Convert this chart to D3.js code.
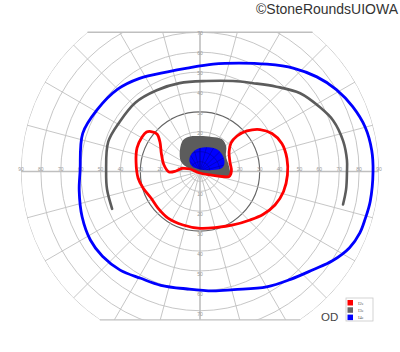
<!DOCTYPE html>
<html>
<head>
<meta charset="utf-8">
<script src="https://cdn.jsdelivr.net/npm/d3@7"></script>
<style>
  html, body { margin: 0; padding: 0; background: #fff; }
  svg { display: block; }
</style>
</head>
<body>
<svg id="chart" width="400" height="352"></svg>
<script>
// isopters as [meridian angle (deg, 0 = right, ccw), eccentricity (deg)]
const i4eOuter = [
  [0, 87], [7, 87], [15, 86], [23, 83.4], [31, 80], [39, 75.6], [48, 70], [58, 63.6],
  [70, 58], [83, 54.4], [97, 52.4], [108, 52.7], [123, 55.8], [135, 58.5], [149, 60.3],
  [162, 62], [180, 60.3], [189, 61.5], [201, 63.5], [212, 65], [221, 65], [231, 63.8],
  [241, 61.4], [251, 60.5], [264, 59.4], [276, 60.4], [286, 61.8], [300, 67], [310, 70.8],
  [319, 75.3], [326, 80.3], [333, 84.4], [339, 86.1], [344, 86.4], [350, 86.9]
];
const i3eArc = [
  [203, 48], [191, 47.6], [180, 47.2], [162, 48.5], [148, 47.5], [133, 47.5], [118, 46.3],
  [103, 45.6], [86, 45.6], [70, 48.4], [59, 51.8], [48, 57.4], [38, 63.9], [28, 68.5],
  [21, 71.7], [12, 73.6], [4.5, 74.1], [0, 73.9], [-7, 74], [-13, 73.8]
];
const i3eIsland = [
  [153, 10.7], [133, 14.8], [118, 18], [106, 18.3], [90, 17.8], [71, 18.4], [56, 19.7],
  [44, 18.3], [31, 15.2], [11, 14.8], [-5, 15.1], [-12, 13.4], [-14, 9.3], [-17, 4.2],
  [217, 1.3], [164, 6.3]
];
const i4eIsland = [
  [125, 8.9], [106, 10.7], [90, 11.8], [67, 13.1], [50, 14.1], [34, 13.9], [19, 13],
  [9, 11.2], [7, 6.1], [90, 1], [146, 4.9], [136, 7.3]
];
const i2eLoop = [
  [140.8, 31.8], [138.9, 28.7], [143.6, 25], [155.6, 21.3], [169.8, 18.4], [180.9, 15.6],
  [178.8, 12.1], [170.5, 9.2], [166, 5.2], [206.6, 1.1], [340.7, 5.3], [347.2, 11.3],
  [350.2, 14.8], [0.9, 15.8], [17.6, 15.8], [33.9, 17.6], [42.6, 21.2], [43.8, 25.8],
  [40.8, 31.2], [35, 36.8], [27.8, 40.9], [18.9, 43.5], [8.5, 44.2], [-2.3, 44],
  [-13.5, 43.2], [-24.1, 41.3], [-34.3, 38.3], [-44.1, 35], [-58.3, 31.6], [-73.1, 29.4],
  [-90, 28.6], [-107.6, 28.2], [-124.5, 28.4], [-139, 28], [-151.6, 28], [-163.9, 29.8],
  [-174, 31.3], [171.6, 32.5], [159.5, 33.8], [149.3, 33.9], [143.6, 33.4]
];

const rings = [5, 10, 20, 30, 40, 50, 60, 70, 80, 90];
const meridians = d3.range(0, 360, 15);
const hTicks = [10, 20, 30, 40, 50, 60, 70, 80, 90];
const vTicks = [10, 20, 30, 40, 50, 60, 70];
const legendNames = ['I2e', 'I3e', 'I4e'];
const legendColors = ['#ff0000', '#666666', '#0000ff'];

const cx = 200, cy = 171.5, R = 179;
const topLimit = 70, bottomLimit = 74.6;

const x = d3.scaleLinear().domain([-90, 90]).range([cx - R, cx + R]);
const y = d3.scaleLinear().domain([-90, 90]).range([cy + R, cy - R]);
const rad = d3.scaleLinear().domain([0, 90]).range([0, R]);

const toXY = d => {
  const a = d[0] * Math.PI / 180;
  return [x(d[1] * Math.cos(a)), y(d[1] * Math.sin(a))];
};

const svg = d3.select('#chart');
const defs = svg.append('defs');

// field outline: 90 deg circle cut flat at top and bottom
const yt = y(topLimit), yb = y(-bottomLimit);
const ht = Math.sqrt(R * R - (cy - yt) ** 2), hb = Math.sqrt(R * R - (yb - cy) ** 2);
defs.append('clipPath').attr('id', 'field')
  .append('path')
  .attr('d', `M${cx - ht},${yt} L${cx + ht},${yt} A${R},${R} 0 0 1 ${cx + hb},${yb}` +
    ` L${cx - hb},${yb} A${R},${R} 0 0 1 ${cx - ht},${yt} Z`);

const closedLine = d3.line().curve(d3.curveCatmullRomClosed.alpha(0.5));
const openLine = d3.line().curve(d3.curveCatmullRom.alpha(0.5));

function drawGrid(g, color, width) {
  g.selectAll('circle.ring')
    .data(rings)
    .join('circle')
    .attr('class', 'ring')
    .attr('cx', cx).attr('cy', cy)
    .attr('r', d => rad(d))
    .attr('fill', 'none')
    .attr('stroke', d => d === 30 && color === '#bfbfbf' ? '#666' : color)
    .attr('stroke-width', d => d === 30 ? width * 1.3 : width);

  g.selectAll('line.spoke')
    .data(meridians)
    .join('line')
    .attr('class', 'spoke')
    .attr('x1', cx).attr('y1', cy)
    .attr('x2', d => x(90 * Math.cos(d * Math.PI / 180)))
    .attr('y2', d => y(90 * Math.sin(d * Math.PI / 180)))
    .attr('stroke', color)
    .attr('stroke-width', d => d % 90 === 0 ? width * 1.8 : width);
}

const grid = svg.append('g').attr('clip-path', 'url(#field)');
drawGrid(grid, '#bfbfbf', 0.9);

// top and bottom cut lines
[[yt, ht], [yb, hb]].forEach(([yy, h]) => {
  svg.append('line')
    .attr('x1', cx - h).attr('x2', cx + h)
    .attr('y1', yy).attr('y2', yy)
    .attr('stroke', '#bfbfbf').attr('stroke-width', 1.4);
});

// axis labels
const labels = svg.append('g')
  .style('font-family', 'Liberation Sans, Arial, sans-serif')
  .style('font-size', '5px')
  .attr('fill', '#999')
  .attr('text-anchor', 'middle');

hTicks.forEach(t => {
  labels.append('text').attr('x', x(-t)).attr('y', cy - 0.5).text(t);
  labels.append('text').attr('x', x(t)).attr('y', cy - 0.5).text(t);
});
vTicks.forEach(t => {
  labels.append('text').attr('x', cx).attr('y', y(t) + 3).text(t);
  labels.append('text').attr('x', cx).attr('y', y(-t) + 5).text(t);
});

// central islands
svg.append('path')
  .attr('d', closedLine(i3eIsland.map(toXY)))
  .attr('fill', '#5c5c5c');

const blueD = closedLine(i4eIsland.map(toXY));
svg.append('path').attr('d', blueD).attr('fill', '#0000ff');

defs.append('clipPath').attr('id', 'blueIsland').append('path').attr('d', blueD);
const inner = svg.append('g').attr('clip-path', 'url(#blueIsland)').attr('opacity', 0.6);
drawGrid(inner, '#000066', 0.6);

// isopter lines
svg.append('path')
  .attr('d', closedLine(i4eOuter.map(toXY)))
  .attr('fill', 'none').attr('stroke', '#0000ff').attr('stroke-width', 2.8);

svg.append('path')
  .attr('d', openLine(i3eArc.map(toXY)))
  .attr('fill', 'none').attr('stroke', '#5c5c5c').attr('stroke-width', 2.6)
  .attr('stroke-linecap', 'round');

svg.append('path')
  .attr('d', closedLine(i2eLoop.map(toXY)))
  .attr('fill', 'none').attr('stroke', '#ff0000').attr('stroke-width', 2.8);

// legend
const legend = svg.append('g');
legend.append('rect')
  .attr('x', 346).attr('y', 298).attr('width', 27).attr('height', 23)
  .attr('fill', '#fff').attr('stroke', '#c8c8c8').attr('stroke-width', 0.8);
legendNames.forEach((name, i) => {
  legend.append('rect')
    .attr('x', 347.5).attr('y', 300 + i * 7.3)
    .attr('width', 5.5).attr('height', 5.5)
    .attr('fill', legendColors[i]);
  legend.append('text')
    .attr('x', 358).attr('y', 304.5 + i * 7.3)
    .style('font-family', 'Liberation Serif, serif')
    .style('font-size', '4.5px')
    .attr('fill', '#555')
    .text(name);
});

svg.append('text')
  .attr('x', 321).attr('y', 320.5)
  .style('font-family', 'Liberation Sans, Arial, sans-serif')
  .style('font-size', '11.5px')
  .attr('fill', '#444')
  .text('OD');

svg.append('text')
  .attr('x', 398).attr('y', 13.5)
  .attr('text-anchor', 'end')
  .style('font-family', 'Liberation Sans, Arial, sans-serif')
  .style('font-size', '14px')
  .attr('fill', '#333')
  .attr('textLength', 142)
  .attr('lengthAdjust', 'spacingAndGlyphs')
  .text('©StoneRoundsUIOWA');
</script>
</body>
</html>
